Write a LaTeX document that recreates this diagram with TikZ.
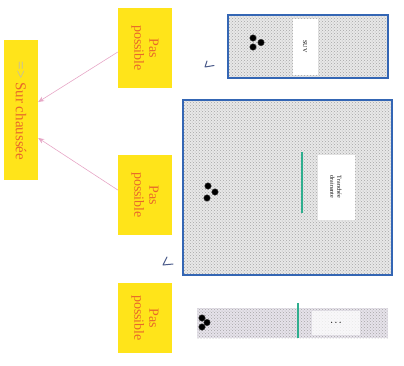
\documentclass[tikz,border=0pt]{standalone}
\usepackage{fontspec}
\setmainfont{Liberation Serif}
\usetikzlibrary{patterns,arrows.meta,calc}
\definecolor{signyellow}{HTML}{FFE41A}
\definecolor{signtext}{HTML}{E8682A}
\definecolor{frameblue}{HTML}{3466B4}
\definecolor{drainteal}{HTML}{2FAE8E}
\definecolor{arrowpink}{HTML}{E6A6C6}
\definecolor{tickblue}{HTML}{4A5A8A}
\definecolor{stripgray}{HTML}{E6E2EA}
\tikzset{
  sign/.style={fill=signyellow, draw=none, inner sep=0pt, text=signtext,
    font=\fontsize{13}{15}\selectfont, align=center},
  signtxt/.style={rotate=-90, text=signtext, font=\fontsize{14}{15}\selectfont, align=center},
  ground/.style={inner sep=0pt, draw=none,
    preaction={fill=gray!18},
    pattern=crosshatch dots, pattern color=gray!70},
  framed/.style={ground, draw=frameblue, line width=1.1pt},
  label box/.style={fill=white, inner sep=0pt, font=\fontsize{6}{7}\selectfont, align=center},
  rock/.style={circle, fill=black, draw=black!80, inner sep=0pt, minimum size=6.5pt},
  drain/.style={draw=drainteal, line width=1.3pt},
  link/.style={draw=arrowpink, line width=0.6pt, -{Stealth[length=6pt,width=5pt]}},
  tick/.style={draw=tickblue, line width=1pt, line cap=round, line join=round}
}
\begin{document}
\begin{tikzpicture}[x=1pt,y=-1pt]
\useasboundingbox (0,0) rectangle (404,365);

% destination panel
\node[sign, minimum width=34pt, minimum height=140pt] (sur) at (21,110) {};
\node[signtxt, font=\fontsize{15}{16}\selectfont] (surtxt) at (21,111)
  {\textcolor{gray!55}{=>} Sur chaussée};

% "not possible" panels
\node[sign, minimum width=54pt, minimum height=80pt] (pas1) at (145,48) {};
\node[signtxt] at (pas1) {Pas\\possible};
\node[sign, minimum width=54pt, minimum height=80pt] (pas2) at (145,195) {};
\node[signtxt] at (pas2) {Pas\\possible};
\node[sign, minimum width=54pt, minimum height=70pt] (pas3) at (145,318) {};
\node[signtxt] at (pas3) {Pas\\possible};

% arrows towards the destination panel
\draw[link] ([yshift=-4pt]pas1.west) -- ([yshift=8pt]sur.east);
\draw[link] ([yshift=5pt]pas2.west) -- ([yshift=-28pt]sur.east);

% top plot
\node[framed, minimum width=160pt, minimum height=63pt] (plotA) at (308,46.5) {};
\node[label box, minimum width=25pt, minimum height=56pt] (labA) at (305,46.5) {};
\node[rotate=-90, font=\fontsize{6}{7}\selectfont] at (labA) {SUV};
\node[rock] (a1) at (253,38) {};
\node[rock] (a2) at (253,47) {};
\node[rock] (a3) at (261,42.5) {};

% large plot
\node[framed, minimum width=209pt, minimum height=175pt] (plotB) at (287.5,187.5) {};
\draw[drain] (302,152) -- (302,213);
\node[label box, minimum width=37pt, minimum height=65pt] (labB) at (336,187) {};
\node[rotate=-90, font=\fontsize{6}{7}\selectfont, align=center] at (labB) {Tranchée\\drainante};
\node[rock] (b1) at (208,186) {};
\node[rock] (b2) at (215,192) {};
\node[rock] (b3) at (207,198) {};

% narrow strip
\node[ground, preaction={fill=stripgray}, minimum width=191pt, minimum height=30pt] (plotC) at (292.5,323) {};
\draw[drain] (298,303) -- (298,338);
\node[label box, fill opacity=0.75, text opacity=1, minimum width=48pt, minimum height=24pt] (labC) at (336,323) {};
\node[font=\fontsize{5}{6}\selectfont] at (labC) {\textbullet\ \ \textbullet\ \ \textbullet};
\node[rock] (c1) at (202,318) {};
\node[rock] (c2) at (202,327) {};
\node[rock] (c3) at (207,322.5) {};

% check marks
\draw[tick] (207,61) -- (205,67) -- (214,65.5);
\draw[tick] (167,257) -- (163,265) -- (173,264);
\end{tikzpicture}
\end{document}
